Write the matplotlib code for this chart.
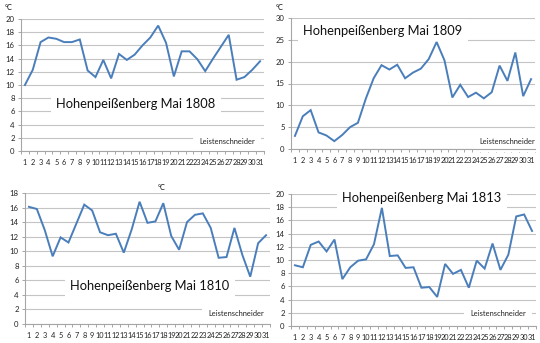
import matplotlib
matplotlib.use("Agg")
import matplotlib.pyplot as plt
from matplotlib.ticker import MultipleLocator, FixedLocator

plt.rcParams['font.family'] = ['Lato', 'DejaVu Sans']

days = list(range(1, 32))
day_labels = [str(d) for d in days]

temps_1808 = [10.0, 12.3, 16.5, 17.2, 17.0, 16.5, 16.5, 16.9, 12.2, 11.2, 13.8,
              11.0, 14.7, 13.8, 14.6, 16.0, 17.2, 19.0, 16.4, 11.3, 15.1, 15.1,
              13.9, 12.1, 14.0, 15.8, 17.6, 10.8, 11.2, 12.3, 13.6]
temps_1809 = [3.0, 7.5, 8.9, 3.8, 3.1, 1.8, 3.2, 5.0, 6.0, 11.5, 16.2,
              19.2, 18.2, 19.3, 16.2, 17.5, 18.4, 20.6, 24.5, 20.3, 11.8, 14.7,
              11.9, 12.9, 11.6, 13.0, 19.1, 15.6, 22.1, 12.1, 16.0]
temps_1810 = [16.1, 15.8, 12.9, 9.3, 11.9, 11.2, 13.8, 16.4, 15.6, 12.6, 12.2,
              12.4, 9.8, 13.0, 16.8, 13.9, 14.1, 16.6, 12.1, 10.2, 14.0, 15.0,
              15.2, 13.2, 9.1, 9.2, 13.2, 9.5, 6.5, 11.1, 12.2]
temps_1813 = [9.2, 8.9, 12.3, 12.8, 11.3, 13.1, 7.1, 8.9, 9.9, 10.1, 12.4,
              17.9, 10.6, 10.7, 8.8, 8.9, 5.8, 5.9, 4.4, 9.4, 7.9, 8.5,
              5.8, 9.9, 8.7, 12.5, 8.5, 10.8, 16.6, 16.9, 14.4]

titles = ["Hohenpeißenberg Mai 1808", "Hohenpeißenberg Mai 1809",
          "Hohenpeißenberg Mai 1810", "Hohenpeißenberg Mai 1813"]
author = "Leistenschneider"
unit = "°C"

W, H = 540, 343
fig = plt.figure(figsize=(W / 100, H / 100), dpi=100)
fig.patch.set_facecolor("white")


def fx(x):
    return x / W


def fy(y):
    return 1 - y / H


def make_axes(left, right, top, bottom):
    return fig.add_axes([fx(left), fy(bottom), fx(right - left), (bottom - top) / H])


LINE = "#4a7ebb"
GRID = "#c4c4c4"
AXIS = "#a6a6a6"


def style(ax, values, ymax, ystep):
    ax.plot(days, values, color=LINE, lw=1.4, zorder=3, solid_joinstyle="miter")
    ax.set_xlim(0.5, 31.5)
    ax.set_ylim(0, ymax)
    ax.yaxis.set_major_locator(MultipleLocator(ystep))
    ax.xaxis.set_major_locator(FixedLocator(days))
    ax.set_xticklabels(day_labels)
    ax.xaxis.set_minor_locator(FixedLocator([d + 0.5 for d in range(0, 32)]))
    ax.tick_params(axis="x", which="major", length=0, pad=6, labelsize=5.3,
                   colors="#222222")
    ax.tick_params(axis="x", which="minor", length=2.5, color=AXIS, width=0.7)
    ax.tick_params(axis="y", which="major", length=2.5, color=AXIS, width=0.7,
                   pad=2, labelsize=5.6, labelcolor="#222222")
    ax.grid(axis="y", color=GRID, lw=0.8, zorder=0)
    ax.set_axisbelow(True)
    for s in ("top", "right"):
        ax.spines[s].set_visible(False)
    for s in ("left", "bottom"):
        ax.spines[s].set_color(AXIS)
        ax.spines[s].set_linewidth(0.8)
    ax.set_facecolor("white")


def title_text(ax, x, y, s):
    # drawn between the gridlines and the data line
    ax.text(fx(x), fy(y), s, transform=fig.transFigure, ha="center",
            va="center", fontsize=9.3, color="#111111", zorder=2.5,
            bbox=dict(boxstyle="square,pad=0.45", fc="white", ec="none"))


def author_text(ax, x, y):
    ax.text(fx(x), fy(y), author, transform=fig.transFigure, ha="center",
            va="center", fontsize=5.4, color="#222222", zorder=2.5,
            bbox=dict(boxstyle="square,pad=0.8", fc="white", ec="none"))


ax1 = make_axes(21, 264, 19, 151)
style(ax1, temps_1808, 20, 2)
ax2 = make_axes(291, 535, 18, 149)
style(ax2, temps_1809, 30, 5)
ax3 = make_axes(25, 270, 193, 324)
style(ax3, temps_1810, 18, 2)
ax4 = make_axes(291, 536, 194, 326)
style(ax4, temps_1813, 20, 2)

title_text(ax1, 136, 104, titles[0])
title_text(ax2, 383, 31, titles[1])
title_text(ax3, 150, 286, titles[2])
title_text(ax4, 422, 198, titles[3])

author_text(ax1, 227, 141)
author_text(ax2, 507, 142)
author_text(ax3, 236, 313)
author_text(ax4, 498, 313)

fig.text(fx(9), fy(7), unit, ha="center", va="center", fontsize=5.2)
fig.text(fx(280), fy(7), unit, ha="center", va="center", fontsize=5.2)
fig.text(fx(162), fy(188), unit, ha="center", va="center", fontsize=5.2)

fig.savefig("out.png", dpi=100, facecolor="white")
